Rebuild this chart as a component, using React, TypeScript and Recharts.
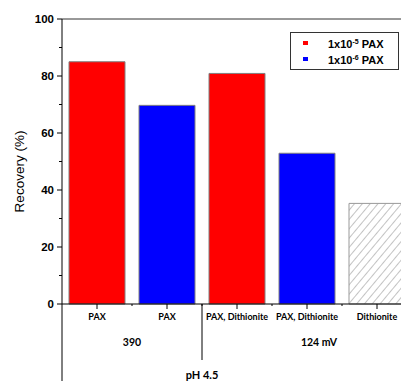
import React from 'react';
import { BarChart, Bar, XAxis, YAxis, Cell, ReferenceLine } from 'recharts';

const categories = ['PAX', 'PAX', 'PAX, Dithionite', 'PAX, Dithionite', 'Dithionite'];
const recovery = [85.0, 69.7, 80.9, 52.9, 35.3];
const barKinds = ['red', 'blue', 'red', 'blue', 'hatch'];
const yTicks = [0, 10, 20, 30, 40, 50, 60, 70, 80, 90, 100];
const groupLabels = ['390', '124 mV'];
const conditionLabel = 'pH 4.5';
const legendItems = [
  { base: '1x10', exp: '-5', rest: ' PAX', color: '#FF0000' },
  { base: '1x10', exp: '-6', rest: ' PAX', color: '#0000FF' },
];

const data = categories.map((name, i) => ({ name, value: recovery[i], kind: barKinds[i] }));

const fillFor = (k: string) => (k === 'red' ? '#FF0000' : k === 'blue' ? '#0000FF' : 'url(#hatch)');

const YTick = (props: any) => {
  const { x, y, payload } = props;
  const major = payload.value % 20 === 0;
  return (
    <g>
      <line x1={x - (major ? 5 : 3)} x2={x} y1={y} y2={y} stroke="#000" strokeWidth={1} />
      {major && (
        <text x={x - 8} y={y} dy="0.35em" textAnchor="end" fontFamily="Liberation Sans, Arial" fontWeight="bold" fontSize={11.5} fill="#000">
          {payload.value}
        </text>
      )}
    </g>
  );
};

const XTick = (props: any) => {
  const { x, y, payload, index } = props;
  const half = 35;
  const font = 'Lato, sans-serif';
  return (
    <g>
      <line x1={x} x2={x} y1={y} y2={y + 5} stroke="#000" />
      <line x1={x + half} x2={x + half} y1={y} y2={y + 2} stroke="#000" />
      <text x={x} y={y + 16} textAnchor="middle" fontFamily={font} fontWeight="bold" fontSize={9} fill="#000">
        {payload.value}
      </text>
      {index === 0 && (
        <g>
          <line x1={x - half} x2={x - half} y1={y} y2={y + 80} stroke="#000" />
          <text x={x + half} y={y + 42} textAnchor="middle" fontFamily={font} fontWeight="bold" fontSize={10.5} fill="#000">
            {groupLabels[0]}
          </text>
        </g>
      )}
      {index === 2 && (
        <g>
          <line x1={x - half} x2={x - half} y1={y} y2={y + 56} stroke="#000" />
          <text x={x - half} y={y + 75} textAnchor="middle" fontFamily={font} fontWeight="bold" fontSize={11} fill="#000">
            {conditionLabel}
          </text>
        </g>
      )}
      {index === 3 && (
        <text x={x + 12} y={y + 42} textAnchor="middle" fontFamily={font} fontWeight="bold" fontSize={10.5} fill="#000">
          {groupLabels[1]}
        </text>
      )}
    </g>
  );
};

const Legend2 = () => (
  <div
    style={{
      position: 'absolute',
      left: 290,
      top: 32,
      width: 109,
      height: 38,
      border: '1px solid #333',
      background: '#fff',
      boxSizing: 'border-box',
      fontFamily: 'Liberation Sans, Arial',
      fontWeight: 'bold',
      fontSize: 11,
    }}
  >
    {legendItems.map((it, i) => (
      <div key={i} style={{ position: 'absolute', left: 0, top: 4 + i * 16, height: 14, width: '100%' }}>
        <div style={{ position: 'absolute', left: 12, top: 4, width: 5, height: 4, background: it.color }} />
        <div style={{ position: 'absolute', left: 37, top: 0, lineHeight: '14px', whiteSpace: 'nowrap' }}>
          {it.base}
          <sup style={{ fontSize: 7, verticalAlign: 'top', lineHeight: '10px' }}>{it.exp}</sup>
          {it.rest}
        </div>
      </div>
    ))}
  </div>
);

export default function App() {
  return (
    <div style={{ position: 'fixed', left: 0, top: 0, width: 401, height: 381, overflow: 'hidden', background: '#fff' }}>
      <BarChart
        width={420}
        height={381}
        data={data}
        margin={{ top: 19, right: 8, bottom: 0, left: 0 }}
        barCategoryGap="10%"
      >
        <defs>
          <pattern id="hatch" patternUnits="userSpaceOnUse" width="6" height="6" patternTransform="rotate(40)">
            <rect width="6" height="6" fill="#fff" />
            <line x1="0" y1="0" x2="0" y2="6" stroke="#888" strokeWidth="1" />
          </pattern>
        </defs>
        <XAxis
          dataKey="name"
          interval={0}
          height={77}
          tickSize={0}
          tickMargin={0}
          tickLine={false}
          axisLine={{ stroke: '#000' }}
          tick={<XTick />}
        />
        <YAxis
          width={62}
          domain={[0, 100]}
          ticks={yTicks}
          interval={0}
          tickSize={0}
          tickMargin={0}
          tickLine={false}
          axisLine={{ stroke: '#000' }}
          tick={<YTick />}
          label={{
            content: (p: any) => {
              const vb = p.viewBox || { x: 0, y: 19, width: 62, height: 285 };
              const cx = vb.x + 19;
              const cy = vb.y + vb.height / 2 + 10;
              return (
                <text x={cx} y={cy} transform={`rotate(-90 ${cx} ${cy})`} textAnchor="middle" dominantBaseline="central" fontFamily="Liberation Sans, Arial" fontSize={13.5} fill="#000">
                  Recovery (%)
                </text>
              );
            },
          }}
        />
        <ReferenceLine y={100} stroke="#333" strokeWidth={1} ifOverflow="visible" />
        <Bar dataKey="value" isAnimationActive={false} stroke="#808080" strokeWidth={1}>
          {data.map((d, i) => (
            <Cell key={i} fill={fillFor(d.kind)} stroke={d.kind === 'hatch' ? '#999' : '#808080'} />
          ))}
        </Bar>
      </BarChart>
      <Legend2 />
    </div>
  );
}
